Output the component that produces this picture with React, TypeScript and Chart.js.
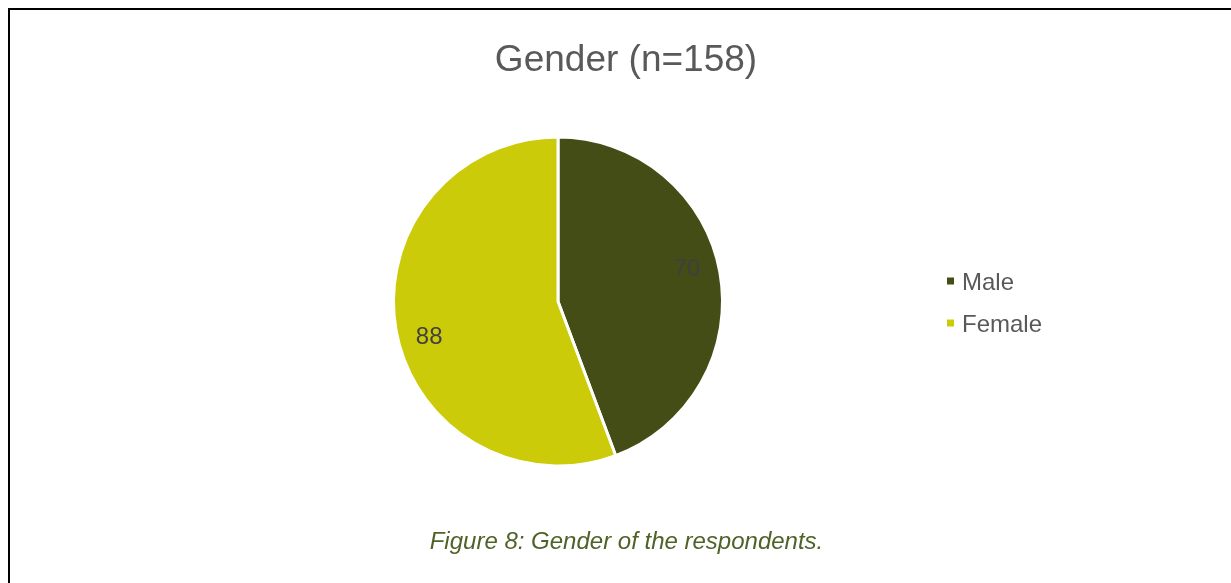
import React, { useEffect, useRef } from "react";
import { Chart, registerables } from "chart.js";
Chart.register(...registerables);

const categories = ["Male", "Female"];
const values = [70, 88];
const sliceColors = ["#434D15", "#CBCB0A"];
const titleText = "Gender (n=158)";
const captionText = "Figure 8: Gender of the respondents.";

const FONT = '"Liberation Sans", Arial, sans-serif';

export default function App() {
  const ref = useRef<HTMLCanvasElement>(null);
  useEffect(() => {
    const canvas = ref.current!;
    const overlay = {
      id: "overlay",
      afterDraw(chart: any) {
        const ctx = chart.ctx as CanvasRenderingContext2D;
        ctx.save();
        ctx.textBaseline = "alphabetic";
        // title
        ctx.font = `37px ${FONT}`;
        ctx.fillStyle = "#595959";
        ctx.textAlign = "center";
        ctx.fillText(titleText, 616, 60.5);
        // value labels
        const meta = chart.getDatasetMeta(0);
        ctx.font = `24px ${FONT}`;
        ctx.fillStyle = "#404040";
        meta.data.forEach((arc: any, i: number) => {
          const p = arc.getProps(["x", "y", "startAngle", "endAngle", "outerRadius"], true);
          const mid = (p.startAngle + p.endAngle) / 2 - 0.08;
          const r = p.outerRadius * 0.81;
          const cx = p.x + Math.cos(mid) * r;
          const cy = p.y + Math.sin(mid) * r;
          ctx.fillText(String(values[i]), cx, cy + 8.6);
        });
        // legend
        ctx.textAlign = "left";
        categories.forEach((c, i) => {
          const cy = 271 + i * 42;
          ctx.fillStyle = sliceColors[i];
          ctx.fillRect(937, cy - 3.5, 7, 7);
          ctx.fillStyle = "#595959";
          ctx.fillText(c, 952, cy + 8.6);
        });
        // caption
        ctx.textAlign = "center";
        ctx.font = `italic 24px ${FONT}`;
        ctx.fillStyle = "#4F6228";
        ctx.fillText(captionText, 626.5 - 10, 538.5);
        ctx.restore();
      },
    };
    const chart = new Chart(canvas, {
      type: "pie",
      data: {
        labels: categories,
        datasets: [
          {
            data: values,
            backgroundColor: sliceColors,
            borderColor: "#FFFFFF",
            borderWidth: 3,
          },
        ],
      },
      options: {
        animation: false,
        responsive: false,
        maintainAspectRatio: false,
        layout: { padding: { left: 382, right: 507, top: 125.5, bottom: 115.5 } },
        plugins: {
          legend: { display: false },
          title: { display: false },
          tooltip: { enabled: false },
        },
      },
      plugins: [overlay],
    });
    return () => chart.destroy();
  }, []);
  return (
    <div
      style={{
        position: "fixed",
        left: 8,
        top: 8,
        right: 0,
        bottom: 0,
        borderTop: "2px solid #000",
        borderLeft: "2px solid #000",
        background: "#fff",
        overflow: "hidden",
      }}
    >
      <canvas ref={ref} width={1221} height={573} style={{ display: "block", width: 1221, height: 573 }} />
    </div>
  );
}
